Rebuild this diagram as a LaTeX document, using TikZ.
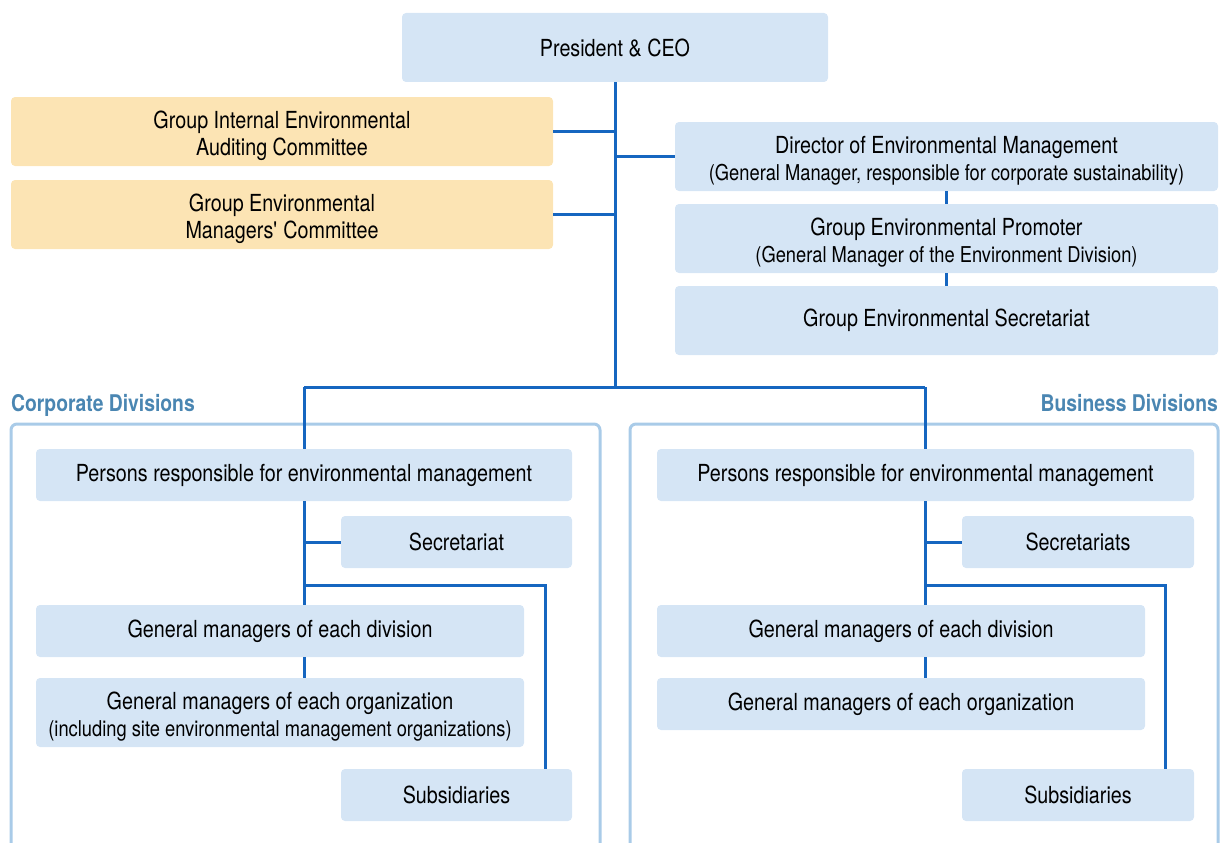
\documentclass[tikz,border=0pt]{standalone}
\usepackage{fontspec}
\setmainfont{TeX Gyre Heros}[FakeStretch=0.84]
\definecolor{boxfill}{HTML}{D5E5F5}
\definecolor{orgfill}{HTML}{FCE4B4}
\definecolor{linec}{HTML}{1666C0}
\definecolor{framec}{HTML}{A9CBE8}
\definecolor{labc}{HTML}{4A86B2}
\newcommand{\sm}{\fontsize{21.8}{27}\selectfont}
\newcommand{\lift}{\rule{0pt}{26pt}}
\begin{document}
\begin{tikzpicture}[x=1pt,y=-1pt,
  bx/.style={fill=boxfill,rounded corners=4pt,inner sep=0pt,align=center,
    font=\fontsize{23.5}{27}\selectfont},
  ox/.style={bx,fill=orgfill},
  conn/.style={draw=linec,line width=3pt},
  frame/.style={draw=framec,line width=3pt,rounded corners=6pt},
  lab/.style={text=labc,font=\fontsize{23}{27}\selectfont\bfseries,inner sep=0pt}]
\useasboundingbox (0,0) rectangle (1221,843);
% helper: node at center with width/height
\newcommand{\bxn}[7]{\node[#1,minimum width=#4,minimum height=#5] (#2) at (#6,#7) {#3};}
% top
\bxn{bx}{ceo}{President \& CEO}{426}{69}{615}{47.5}
\bxn{ox}{audit}{\lift Group Internal Environmental\\Auditing Committee}{542}{69}{282}{131.5}
\bxn{ox}{mgrs}{\lift Group Environmental\\Managers\textquotesingle\ Committee}{542}{69}{282}{214.5}
\bxn{bx}{dir}{\lift Director of Environmental Management\\{\sm(General Manager, responsible for corporate sustainability)}}{543}{69}{946.5}{156.5}
\bxn{bx}{prom}{\lift Group Environmental Promoter\\{\sm(General Manager of the Environment Division)}}{543}{69}{946.5}{238.5}
\bxn{bx}{gsec}{Group Environmental Secretariat}{543}{69}{946.5}{320.5}
% labels
\node[lab,anchor=base west] (lcorp) at (11,411) {Corporate Divisions};
\node[lab,anchor=base east] (lbus) at (1218,411) {Business Divisions};
% frames
\draw[frame] (11,850) -- (11,424) -- (600,424) -- (600,850);
\draw[frame] (630,850) -- (630,424) -- (1218,424) -- (1218,850);
% left panel
\bxn{bx}{lpers}{Persons responsible for environmental management}{536}{52}{304}{475}
\bxn{bx}{lsec}{Secretariat}{231}{52}{456.5}{542}
\bxn{bx}{lgmd}{General managers of each division}{488}{52}{280}{631}
\bxn{bx}{lgmo}{\lift General managers of each organization\\{\sm(including site environmental management organizations)}}{488}{69}{280}{712.5}
\bxn{bx}{lsub}{Subsidiaries}{231}{52}{456.5}{795}
% right panel
\bxn{bx}{rpers}{Persons responsible for environmental management}{537}{52}{925.5}{475}
\bxn{bx}{rsec}{Secretariats}{232}{52}{1078}{542}
\bxn{bx}{rgmd}{General managers of each division}{488}{52}{901}{631}
\bxn{bx}{rgmo}{General managers of each organization}{488}{52}{901}{704}
\bxn{bx}{rsub}{Subsidiaries}{232}{52}{1078}{795}
% coordinates
\coordinate (top) at (615,387);
\coordinate (jl) at (304,387);
\coordinate (jr) at (925,387);
\coordinate (lfork) at (304,585);
\coordinate (rfork) at (925,585);
% connectors top
\draw[conn] (ceo.south) -- (top);
\draw[conn] (audit.east) -- (615,131.5);
\draw[conn] (mgrs.east) -- (615,214.5);
\draw[conn] (615,156.5) -- (dir.west);
\draw[conn] (dir.south) -- (prom.north);
\draw[conn] (prom.south) -- (gsec.north);
\draw[conn] (jl) -- (jr);
\draw[conn] (jl) -- (304,449);
\draw[conn] (jr) -- (925,449);
% left connectors
\draw[conn] (304,501) -- (304,605);
\draw[conn] (304,542) -- (lsec.west);
\draw[conn] (lfork) -- (545,585) -- (545,769);
\draw[conn] (304,657) -- (304,678);
% right connectors
\draw[conn] (925,501) -- (925,605);
\draw[conn] (925,542) -- (rsec.west);
\draw[conn] (rfork) -- (1165,585) -- (1165,769);
\draw[conn] (925,657) -- (925,678);
\end{tikzpicture}
\end{document}
